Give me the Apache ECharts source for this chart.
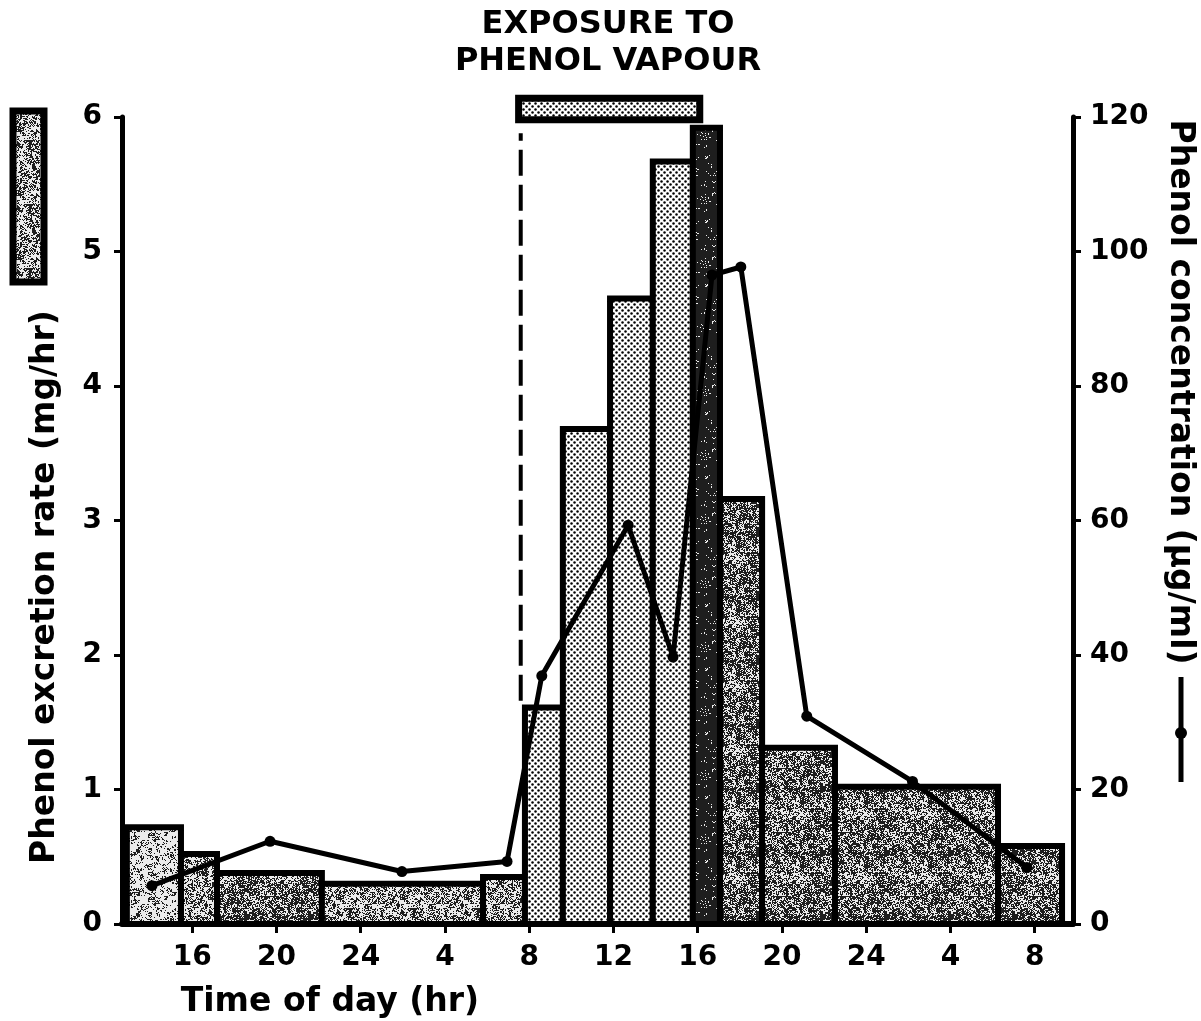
<!DOCTYPE html>
<html>
<head>
<meta charset="utf-8">
<script src="https://cdn.jsdelivr.net/npm/echarts@6/dist/echarts.min.js"></script>
<style>
  html, body { margin: 0; padding: 0; background: #fff; }
  #chart { width: 1201px; height: 1021px; }
</style>
</head>
<body>
<div id="chart"></div>
<script>
// time axis in hours counted from midnight of day 1 (28 = 4 am next day)
const tickHours = [16, 20, 24, 28, 32, 36, 40, 44, 48, 52, 56];
const tickLabels = ['16', '20', '24', '4', '8', '12', '16', '20', '24', '4', '8'];

// urine collection periods (hours) and excretion rate (mg/hr)
const binEdges = [12.9, 15.47, 17.18, 22.16, 29.81, 31.8, 33.6, 35.84, 37.87, 39.77, 41.06, 43.06, 46.52, 54.26, 57.3];
const excretionRate = [0.72, 0.52, 0.38, 0.3, 0.35, 1.61, 3.68, 4.65, 5.67, 5.92, 3.16, 1.31, 1.02, 0.58];
const barShade = ['light', 'mid', 'dark', 'mid', 'mid', 'dots', 'dots', 'dots', 'dots', 'black', 'dark', 'dark', 'dark', 'dark'];

// phenol concentration (ug/ml)
const sampleHours = [14.09, 19.7, 25.96, 30.95, 32.6, 36.7, 38.83, 40.68, 42.05, 45.18, 50.2, 55.63];
const concentration = [5.7, 12.3, 7.8, 9.3, 36.9, 59.3, 39.7, 96.5, 97.7, 30.9, 21.2, 8.4];

// exposure window (hours) and where its marker box sits on the left scale
const exposureHours = [31.5, 40.1];
const exposureBox = [5.98, 6.14];
const exposureDash = [1.66, 5.88];

const FONT = 'DejaVu Sans';

function hash(x, y, s) {
  const v = Math.sin(x * 12.9898 + y * 78.233 + s * 37.719) * 43758.5453;
  return v - Math.floor(v);
}

// grainy photocopy-like texture
function speckle(density, seed) {
  const size = 64;
  const c = document.createElement('canvas');
  c.width = c.height = size;
  const ctx = c.getContext('2d');
  const img = ctx.createImageData(size, size);
  for (let y = 0; y < size; y++) {
    for (let x = 0; x < size; x++) {
      const n = 0.6 * hash(x, y, seed) + 0.4 * hash(x >> 2, y >> 2, seed + 7);
      const g = n < density ? 30 : 235;
      const i = (y * size + x) * 4;
      img.data[i] = img.data[i + 1] = img.data[i + 2] = g;
      img.data[i + 3] = 255;
    }
  }
  ctx.putImageData(img, 0, 0);
  return { image: c, repeat: 'repeat' };
}

function dots() {
  const c = document.createElement('canvas');
  c.width = c.height = 6;
  const ctx = c.getContext('2d');
  ctx.fillStyle = '#fff';
  ctx.fillRect(0, 0, 6, 6);
  ctx.fillStyle = '#000';
  [[1.5, 1.5], [4.5, 4.5]].forEach(p => {
    ctx.beginPath();
    ctx.arc(p[0], p[1], 1.25, 0, Math.PI * 2);
    ctx.fill();
  });
  return { image: c, repeat: 'repeat' };
}

const fills = {
  light: speckle(0.34, 1),
  mid: speckle(0.45, 2),
  dark: speckle(0.54, 3),
  black: speckle(0.86, 4),
  dots: dots()
};

const bars = excretionRate.map((v, i) => [binEdges[i], binEdges[i + 1], v]);
const line = sampleHours.map((h, i) => [h, concentration[i]]);

const chart = echarts.init(document.getElementById('chart'));

const axisText = { color: '#000', fontFamily: FONT, fontWeight: 'bold', fontSize: 28 };
const titleStyle = text => ({ text: text, fill: '#000', font: 'bold 33px "DejaVu Sans"', textAlign: 'center', textVerticalAlign: 'middle' });
const headStyle = text => ({ text: text, fill: '#000', font: 'bold 32px "DejaVu Sans"', textAlign: 'center', textVerticalAlign: 'middle' });

chart.setOption({
  animation: false,
  backgroundColor: '#fff',
  grid: { left: 122, right: 128, top: 117, bottom: 97 },
  xAxis: {
    type: 'value',
    min: 12.67,
    max: 57.82,
    splitLine: { show: false },
    axisLine: { show: true, lineStyle: { color: '#000', width: 6 } },
    axisTick: { show: true, customValues: tickHours, length: 9, lineStyle: { color: '#000', width: 3 } },
    axisLabel: Object.assign({
      customValues: tickHours,
      margin: 20,
      formatter: v => tickLabels[tickHours.indexOf(v)]
    }, axisText)
  },
  yAxis: [
    {
      type: 'value',
      position: 'left',
      min: 0,
      max: 6,
      interval: 1,
      splitLine: { show: false },
      axisLine: { show: true, lineStyle: { color: '#000', width: 5 } },
      axisTick: { show: true, length: 8, lineStyle: { color: '#000', width: 3 } },
      axisLabel: Object.assign({ margin: 20 }, axisText)
    },
    {
      type: 'value',
      position: 'right',
      min: 0,
      max: 120,
      interval: 20,
      splitLine: { show: false },
      axisLine: { show: true, lineStyle: { color: '#000', width: 5 } },
      axisTick: { show: true, length: 8, lineStyle: { color: '#000', width: 3 } },
      axisLabel: Object.assign({ margin: 17 }, axisText)
    }
  ],
  series: [
    {
      type: 'custom',
      name: 'Phenol excretion rate',
      data: bars,
      z: 2,
      renderItem: (params, api) => {
        const p0 = api.coord([api.value(0), 0]);
        const p1 = api.coord([api.value(1), api.value(2)]);
        return {
          type: 'rect',
          shape: { x: p0[0], y: p1[1], width: p1[0] - p0[0], height: p0[1] - p1[1] },
          style: { fill: fills[barShade[params.dataIndex]], stroke: '#000', lineWidth: 6 }
        };
      }
    },
    {
      type: 'custom',
      name: 'Exposure',
      data: [[exposureHours[0], exposureHours[1], exposureBox[0], exposureBox[1]]],
      clip: false,
      z: 3,
      renderItem: (params, api) => {
        const p0 = api.coord([api.value(0), api.value(2)]);
        const p1 = api.coord([api.value(1), api.value(3)]);
        const d0 = api.coord([exposureHours[0] + 0.1, exposureDash[0]]);
        const d1 = api.coord([exposureHours[0] + 0.1, exposureDash[1]]);
        return {
          type: 'group',
          children: [
            {
              type: 'rect',
              shape: { x: p0[0], y: p1[1], width: p1[0] - p0[0], height: p0[1] - p1[1] },
              style: { fill: fills.dots, stroke: '#000', lineWidth: 7 }
            },
            {
              type: 'line',
              shape: { x1: d0[0], y1: d0[1], x2: d1[0], y2: d1[1] },
              style: { stroke: '#000', lineWidth: 4, lineDash: [26, 9] }
            }
          ]
        };
      }
    },
    {
      type: 'line',
      name: 'Phenol concentration',
      yAxisIndex: 1,
      data: line,
      z: 5,
      symbol: 'circle',
      symbolSize: 11,
      itemStyle: { color: '#000' },
      lineStyle: { color: '#000', width: 5 }
    }
  ],
  graphic: [
    { type: 'text', x: 608, y: 25, style: headStyle('EXPOSURE TO') },
    { type: 'text', x: 608, y: 62, style: headStyle('PHENOL VAPOUR') },
    { type: 'text', x: 330, y: 1002, style: titleStyle('Time of day (hr)') },
    { type: 'text', x: 45, y: 587, rotation: Math.PI / 2, style: titleStyle('Phenol excretion rate (mg/hr)') },
    { type: 'text', x: 1180, y: 392, rotation: -Math.PI / 2, style: titleStyle('Phenol concentration (µg/ml)') },
    { type: 'rect', shape: { x: 13, y: 111, width: 31, height: 171 }, style: { fill: fills.mid, stroke: '#000', lineWidth: 7 } },
    { type: 'line', shape: { x1: 1181, y1: 677, x2: 1181, y2: 782 }, style: { stroke: '#000', lineWidth: 5 } },
    { type: 'circle', shape: { cx: 1181, cy: 733, r: 6 }, style: { fill: '#000' } }
  ]
});
</script>
</body>
</html>
